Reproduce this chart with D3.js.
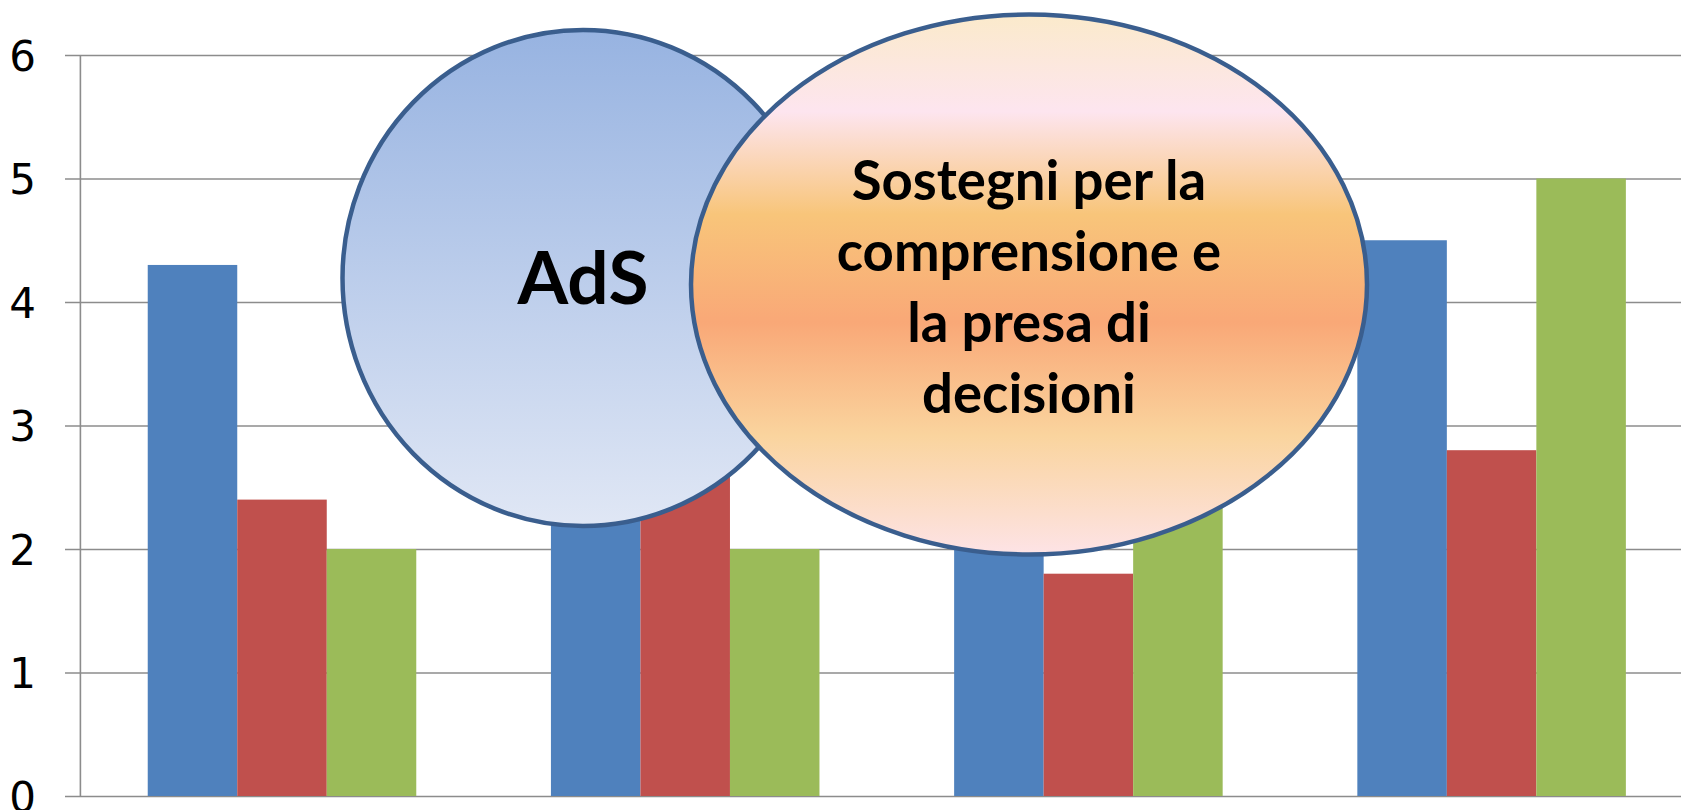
<!DOCTYPE html>
<html>
<head>
<meta charset="utf-8">
<script src="https://cdn.jsdelivr.net/npm/d3@7"></script>
<style>
  body { margin: 0; background: #fff; overflow: hidden; }
</style>
</head>
<body>
<svg id="chart" width="1681" height="810"></svg>
<script>
var categories = ['Categoria 1', 'Categoria 2', 'Categoria 3', 'Categoria 4'];
var seriesNames = ['Serie 1', 'Serie 2', 'Serie 3'];
var serie1 = [4.3, 3.6, 3.4, 4.5];
var serie2 = [2.4, 3.1, 1.8, 2.8];
var serie3 = [2.0, 2.0, 3.0, 5.0];
var seriesColors = ['#4f81bd', '#c0504d', '#9bbb59'];
var yTicks = [0, 1, 2, 3, 4, 5, 6];
var bubbleOne = ['AdS'];
var bubbleTwo = ['Sostegni per la', 'comprensione e', 'la presa di', 'decisioni'];

var svg = d3.select('#chart');

// plot area runs off the right edge, like the original
var x0 = d3.scaleBand()
  .domain(categories)
  .range([80.4, 1693.2])
  .paddingInner(0.334)
  .paddingOuter(0.167);

var x1 = d3.scaleBand()
  .domain(seriesNames)
  .range([0, x0.bandwidth()]);

var y = d3.scaleLinear()
  .domain([0, 6])
  .range([796, 55]);

function drawGrid () {
  var axis = d3.axisLeft(y)
    .tickValues(yTicks)
    .tickSize(-(1681 - 65))
    .tickFormat('');

  var g = svg.append('g')
    .attr('transform', 'translate(65,0)')
    .call(axis);
  g.select('.domain').remove();
  g.selectAll('.tick line')
    .attr('stroke', '#8c8c8c')
    .attr('stroke-width', 1.6);

  // vertical axis
  svg.append('line')
    .attr('x1', 80.4)
    .attr('x2', 80.4)
    .attr('y1', y(6))
    .attr('y2', y(0))
    .attr('stroke', '#8c8c8c')
    .attr('stroke-width', 1.6);

  svg.append('g')
    .selectAll('text')
    .data(yTicks)
    .enter()
    .append('text')
      .attr('x', 36)
      .attr('y', function (d) { return y(d); })
      .attr('dy', '0.37em')
      .attr('text-anchor', 'end')
      .attr('font-family', 'DejaVu Sans')
      .attr('font-size', 42)
      .attr('fill', '#000')
      .text(function (d) { return d; });
}

function drawBars () {
  var rows = categories.map(function (c, i) {
    return { cat: c, values: [serie1[i], serie2[i], serie3[i]] };
  });

  svg.append('g')
    .selectAll('g')
    .data(rows)
    .enter()
    .append('g')
      .attr('transform', function (d) { return 'translate(' + x0(d.cat) + ',0)'; })
    .selectAll('rect')
    .data(function (d) {
      return d.values.map(function (v, j) { return { name: seriesNames[j], value: v, color: seriesColors[j] }; });
    })
    .enter()
    .append('rect')
      .attr('x', function (d) { return x1(d.name); })
      .attr('y', function (d) { return y(d.value); })
      .attr('width', x1.bandwidth())
      .attr('height', function (d) { return y(0) - y(d.value); })
      .attr('fill', function (d) { return d.color; });
}

function addGradients () {
  var defs = svg.append('defs');

  var blue = defs.append('linearGradient')
    .attr('id', 'blueFill')
    .attr('x1', 0).attr('y1', 0).attr('x2', 0).attr('y2', 1);
  blue.append('stop').attr('offset', '0%').attr('stop-color', '#97b3e1');
  blue.append('stop').attr('offset', '100%').attr('stop-color', '#e0e7f5');

  var orange = defs.append('linearGradient')
    .attr('id', 'orangeFill')
    .attr('x1', 0).attr('y1', 0).attr('x2', 0).attr('y2', 1);
  var stops = [
    ['0%', '#fbeacb'],
    ['18%', '#fde5ef'],
    ['37%', '#f8c57a'],
    ['57%', '#f9a877'],
    ['78%', '#fad49e'],
    ['100%', '#fde3e6']
  ];
  stops.forEach(function (s) {
    orange.append('stop').attr('offset', s[0]).attr('stop-color', s[1]);
  });
}

function drawBubble (cx, cy, rx, ry, fill, lines, size, baseline, lineGap) {
  svg.append('ellipse')
    .attr('cx', cx)
    .attr('cy', cy)
    .attr('rx', rx)
    .attr('ry', ry)
    .attr('fill', fill)
    .attr('stroke', '#3a5e8e')
    .attr('stroke-width', 4.5);

  svg.append('g')
    .selectAll('text')
    .data(lines)
    .enter()
    .append('text')
      .attr('x', cx)
      .attr('y', function (d, i) { return baseline + i * lineGap; })
      .attr('text-anchor', 'middle')
      .attr('font-family', 'Lato')
      .attr('font-weight', 'bold')
      .attr('font-size', size)
      .attr('fill', '#000')
      .text(function (d) { return d; });
}

addGradients();
drawGrid();
drawBars();
drawBubble(583, 278, 240.5, 248, 'url(#blueFill)', bubbleOne, 73, 304, 0);
drawBubble(1029, 284.5, 338, 270, 'url(#orangeFill)', bubbleTwo, 54.5, 200, 71);
</script>
</body>
</html>
